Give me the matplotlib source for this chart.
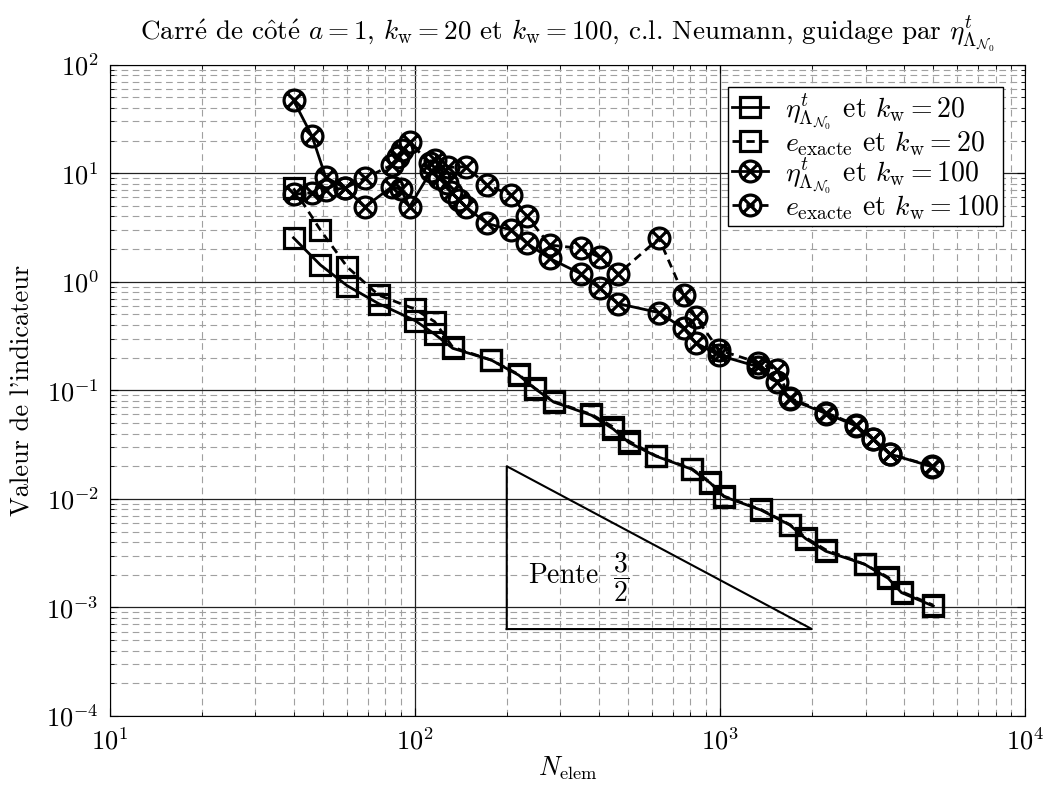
import numpy as np
import matplotlib
matplotlib.use('Agg')
import matplotlib.pyplot as plt
from matplotlib.path import Path

plt.rcParams['font.family'] = ['cmr10', 'DejaVu Serif']
plt.rcParams['mathtext.fontset'] = 'cm'
plt.rcParams['axes.unicode_minus'] = False
plt.rcParams['axes.formatter.use_mathtext'] = True

# k_w = 20 : estimateur et erreur exacte
n20 = [40, 49, 60, 76, 100, 116, 133, 178, 219, 247, 285, 379, 447, 503, 616,
       807, 930, 1030, 1362, 1694, 1910, 2220, 2980, 3555, 3935, 5000]
eta20 = [2.54, 1.43, 0.92, 0.63, 0.44, 0.33, 0.244, 0.19, 0.138, 0.104, 0.078,
         0.059, 0.044, 0.033, 0.0248, 0.0188, 0.0140, 0.0105, 0.0079, 0.00575,
         0.0043, 0.0033, 0.0025, 0.00186, 0.00137, 0.00103]
err20 = [7.25, 3.0, 1.37, 0.755, 0.56, 0.43, 0.25, 0.19, 0.14, 0.105, 0.079,
         0.06, 0.046, 0.034, 0.025, 0.019, 0.0142, 0.0106, 0.0080, 0.0058,
         0.0044, 0.0034, 0.0025, 0.0019, 0.0014, 0.00105]

# k_w = 100
n100_eta = [40, 46, 51, 59, 68.5, 84, 90, 96, 113, 120, 127, 131, 140, 147, 172,
            207, 233, 277, 351, 403, 463, 631, 760, 833, 993, 1334, 1538, 1694,
            2234, 2800, 3175, 3600, 4965]
eta100 = [47, 22, 9.2, 7.3, 4.9, 7.5, 7.1, 4.9, 10.5, 9.0, 8.1, 6.7, 5.65, 4.9,
          3.45, 3.0, 2.26, 1.64, 1.18, 0.87, 0.63, 0.52, 0.372, 0.274, 0.21,
          0.165, 0.12, 0.083, 0.061, 0.047, 0.0354, 0.0259, 0.0198]
n100_err = [40, 46, 51, 59, 68.5, 84, 88, 91, 96, 112, 116, 128, 147, 172, 207,
            233, 277, 351, 403, 463, 631, 760, 833, 993, 1334, 1538, 1694, 2234,
            2800, 3175, 3600, 4965]
err100 = [6.4, 6.6, 7.0, 7.3, 9.0, 11.9, 14.2, 16.3, 19.2, 12.5, 13.3, 11.3,
          11.5, 7.8, 6.3, 4.0, 2.18, 2.03, 1.68, 1.18, 2.51, 0.755, 0.47, 0.235,
          0.18, 0.155, 0.085, 0.062, 0.048, 0.036, 0.026, 0.020]

# triangle de pente 3/2
tri_x = [200, 2000, 200, 200]
tri_y = [0.02 / 10 ** 1.5, 0.02 / 10 ** 1.5, 0.02, 0.02 / 10 ** 1.5]

# marqueur cercle barré
d = np.sqrt(0.5)
circx = Path.make_compound_path(
    Path.unit_circle(),
    Path([[-d, -d], [d, d]], [Path.MOVETO, Path.LINETO]),
    Path([[-d, d], [d, -d]], [Path.MOVETO, Path.LINETO]))

fig = plt.figure(figsize=(10.46, 7.89), dpi=100)
ax = fig.add_axes([0.105, 0.0925, 0.875, 0.8255])

mk = dict(color='black', markerfacecolor='none', markeredgecolor='black',
          markeredgewidth=2.3, markersize=15, linewidth=2.0)
dash = (0, (3, 2))
ax.plot(n20, eta20, marker='s', linestyle='-',
        label=r'$\eta^t_{\Lambda_{\mathcal{N}_0}}$ et $k_\mathrm{w}=20$', **mk)
ax.plot(n20, err20, marker='s', linestyle=dash,
        label=r'$e_\mathrm{exacte}$ et $k_\mathrm{w}=20$', **mk)
ax.plot(n100_eta, eta100, marker=circx, linestyle='-',
        label=r'$\eta^t_{\Lambda_{\mathcal{N}_0}}$ et $k_\mathrm{w}=100$', **mk)
ax.plot(n100_err, err100, marker=circx, linestyle=dash,
        label=r'$e_\mathrm{exacte}$ et $k_\mathrm{w}=100$', **mk)

ax.plot(tri_x, tri_y, color='black', linewidth=1.5)
ax.text(345, 0.0019, r'Pente $\;\dfrac{3}{2}$', fontsize=20, ha='center', va='center')

ax.set_xscale('log')
ax.set_yscale('log')
ax.set_xlim(10, 1e4)
ax.set_ylim(1e-4, 1e2)
ax.grid(True, which='major', color='#222222', linewidth=0.9)
ax.grid(True, which='minor', color='#a0a0a0', linestyle=(0, (6, 4)), linewidth=0.8)
ax.set_axisbelow(True)
ax.tick_params(which='both', direction='in', top=True, right=True, labelsize=19)
ax.tick_params(which='major', length=6, pad=8)
ax.tick_params(which='minor', length=3)

ax.set_xlabel(r'$N_\mathrm{elem}$', fontsize=19, labelpad=0)
ax.set_ylabel("Valeur de l'indicateur", fontsize=19, labelpad=8)
ax.set_title(r'Carr$\mathrm{\acute{e}}$ de c$\mathrm{\hat{o}}$t$\mathrm{\acute{e}}$ $a=1$, '
             r'$k_\mathrm{w}=20$ et $k_\mathrm{w}=100$, c.l. Neumann, guidage par '
             r'$\eta^t_{\Lambda_{\mathcal{N}_0}}$',
             fontsize=19.5, pad=18)

leg = ax.legend(loc='upper right', fontsize=20, handlelength=1.3, handletextpad=0.6,
                fancybox=False, framealpha=1, edgecolor='black', borderpad=0.15,
                labelspacing=-0.1, borderaxespad=0.8)
leg.get_frame().set_linewidth(1.0)

fig.savefig('out.png', dpi=100)
